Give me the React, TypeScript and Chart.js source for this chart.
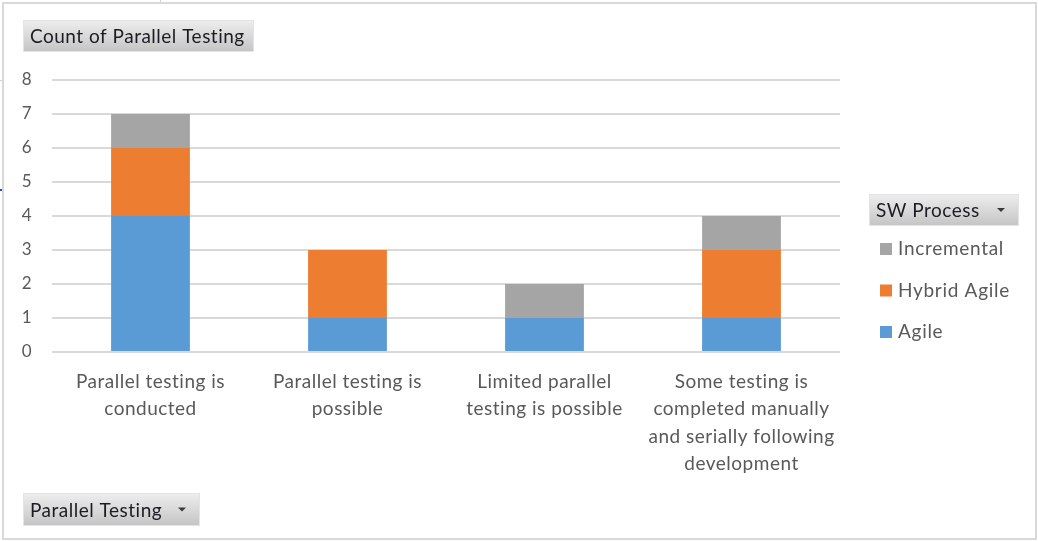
import React, { useEffect, useRef } from "react";
import { Chart, registerables } from "chart.js";

Chart.register(...registerables);

// ---- data ----
const categories: string[][] = [
  ["Parallel testing is", "conducted"],
  ["Parallel testing is", "possible"],
  ["Limited parallel", "testing is possible"],
  ["Some testing is", "completed manually", "and serially following", "development"],
];
const agile: (number | null)[] = [4, 1, 1, 1];
const hybridAgile: (number | null)[] = [2, 2, null, 2];
const incremental: (number | null)[] = [1, null, 1, 1];
const seriesNames = ["Agile", "Hybrid Agile", "Incremental"];
const seriesColors = ["#5B9BD5", "#ED7D31", "#A5A5A5"];
const yMax = 8;
const yStep = 1;

const valueFieldButton = "Count of Parallel Testing";
const legendFieldButton = "SW Process";
const axisFieldButton = "Parallel Testing";

const FONT = "Lato, 'Open Sans', sans-serif";
const TEXT_GREY = "#595959";

function setSpacing(ctx: CanvasRenderingContext2D, px: number) {
  (ctx as any).letterSpacing = `${px}px`;
}

function drawFieldButton(
  ctx: CanvasRenderingContext2D,
  x: number,
  y: number,
  w: number,
  h: number,
  text: string,
  arrow: boolean
) {
  const g = ctx.createLinearGradient(0, y, 0, y + h);
  g.addColorStop(0, "#eeeeee");
  g.addColorStop(1, "#c4c4c4");
  ctx.fillStyle = g;
  ctx.fillRect(x, y, w, h);
  ctx.strokeStyle = "#e4e4e4";
  ctx.lineWidth = 1;
  ctx.strokeRect(x + 0.5, y + 0.5, w - 1, h - 1);
  ctx.fillStyle = "#1c1c24";
  ctx.font = `19px ${FONT}`;
  setSpacing(ctx, 0.5);
  ctx.textAlign = "left";
  ctx.textBaseline = "middle";
  ctx.fillText(text, x + 7, y + h / 2 + 1);
  if (arrow) {
    const ax = x + w - 18;
    const ay = y + h / 2 - 2;
    ctx.fillStyle = "#3a3a3a";
    ctx.beginPath();
    ctx.moveTo(ax - 4, ay);
    ctx.lineTo(ax + 4, ay);
    ctx.lineTo(ax, ay + 4);
    ctx.closePath();
    ctx.fill();
  }
}

// Pivot-chart decorations: frame, field buttons and the series legend
const pivotDecor = {
  id: "pivotDecor",
  beforeDraw(chart: Chart) {
    const ctx = chart.ctx;
    ctx.save();
    ctx.fillStyle = "#ffffff";
    ctx.fillRect(0, 0, chart.width, chart.height);
    ctx.restore();
    // slightly loose tracking for the axis labels
    setSpacing(ctx, 0.5);
  },
  afterDraw(chart: Chart) {
    const ctx = chart.ctx;
    ctx.save();

    // sheet cell edges peeking out around the chart object
    ctx.fillStyle = "#d4d4d4";
    ctx.fillRect(160, 0, 1, 3);
    ctx.fillRect(0, 80, 3, 1);
    ctx.fillStyle = "#3344cc";
    ctx.fillRect(0, 189, 2, 2);

    // chart object frame
    ctx.strokeStyle = "#d9d9d9";
    ctx.lineWidth = 2;
    ctx.strokeRect(3, 3, 1033, 536);

    // field buttons
    drawFieldButton(ctx, 23, 20, 231, 32, valueFieldButton, false);
    drawFieldButton(ctx, 869, 194, 150, 32, legendFieldButton, true);
    drawFieldButton(ctx, 23, 493, 177, 33, axisFieldButton, true);

    // legend (series listed top-down in reverse stacking order)
    const ds = chart.data.datasets;
    ctx.font = `19px ${FONT}`;
    setSpacing(ctx, 0.7);
    ctx.textAlign = "left";
    ctx.textBaseline = "middle";
    for (let i = ds.length - 1, row = 0; i >= 0; i--, row++) {
      const cy = 249 + row * 41.5;
      ctx.fillStyle = ds[i].backgroundColor as string;
      ctx.fillRect(880, cy - 6, 12, 12);
      ctx.fillStyle = TEXT_GREY;
      ctx.fillText(ds[i].label as string, 898, cy);
    }
    ctx.restore();
  },
};

export default function App() {
  const canvasRef = useRef<HTMLCanvasElement | null>(null);

  useEffect(() => {
    const canvas = canvasRef.current;
    if (!canvas) return;
    const chart = new Chart(canvas, {
      type: "bar",
      data: {
        labels: categories,
        datasets: [
          { label: seriesNames[0], data: agile, backgroundColor: seriesColors[0] },
          { label: seriesNames[1], data: hybridAgile, backgroundColor: seriesColors[1] },
          { label: seriesNames[2], data: incremental, backgroundColor: seriesColors[2] },
        ],
      },
      options: {
        responsive: false,
        animation: false,
        devicePixelRatio: 1,
        layout: { padding: { left: 0, top: 80, right: 198, bottom: 0 } },
        datasets: { bar: { categoryPercentage: 1, barPercentage: 0.4 } },
        plugins: {
          legend: { display: false },
          tooltip: { enabled: false },
          title: { display: false },
        },
        scales: {
          x: {
            stacked: true,
            grid: { display: false, drawTicks: false },
            border: { display: false },
            ticks: {
              color: TEXT_GREY,
              font: { family: FONT, size: 19, lineHeight: 1.44 },
              padding: 16,
              maxRotation: 0,
              autoSkip: false,
            },
            afterFit(scale: any) {
              scale.height = 189;
            },
          },
          y: {
            stacked: true,
            min: 0,
            max: yMax,
            grid: { color: "#d9d9d9", lineWidth: 2, drawTicks: false },
            border: { display: false },
            ticks: {
              stepSize: yStep,
              color: TEXT_GREY,
              font: { family: FONT, size: 17 },
              padding: 20,
            },
            afterFit(scale: any) {
              scale.width = 52;
            },
          },
        },
      },
      plugins: [pivotDecor],
    });
    return () => chart.destroy();
  }, []);

  return (
    <div style={{ position: "absolute", left: 0, top: 0, width: 1038, height: 541 }}>
      <canvas ref={canvasRef} width={1038} height={541} style={{ display: "block" }} />
    </div>
  );
}
